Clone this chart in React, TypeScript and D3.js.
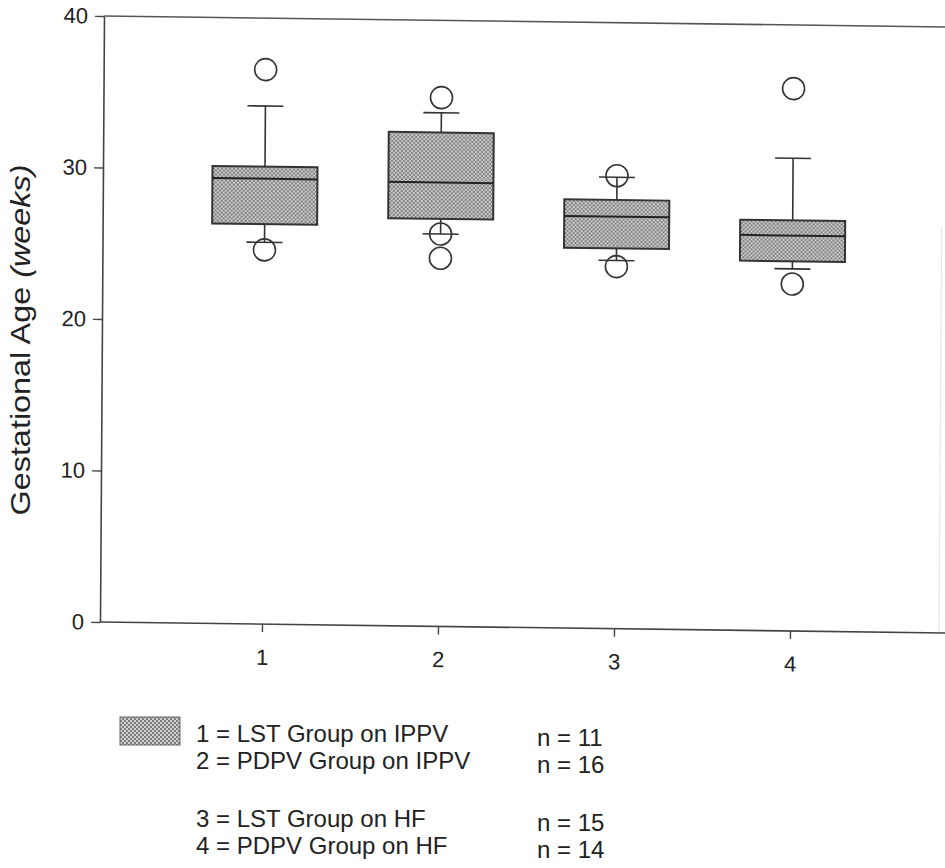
import React, { useEffect, useRef } from 'react'
import * as d3 from 'd3'

// box plot values (weeks)
const groups = [1, 2, 3, 4]
const q1 = [26.4, 26.9, 25.1, 24.4]
const medians = [29.4, 29.3, 27.2, 26.1]
const q3 = [30.2, 32.6, 28.3, 27.1]
const whiskerLow = [25.2, 25.9, 24.3, 23.9]
const whiskerHigh = [34.2, 33.9, 29.8, 31.2]
const outliers = [[36.6, 24.7], [34.9, 25.9, 24.3], [29.9, 23.9], [35.8, 22.9]]
const yTicks = [0, 10, 20, 30, 40]

const legendLabels = [
	'1 = LST Group on IPPV',
	'2 = PDPV Group on IPPV',
	'3 = LST Group on HF',
	'4 = PDPV Group on HF',
]
const legendCounts = ['n = 11', 'n = 16', 'n = 15', 'n = 14']

export default function App() {
	const ref = useRef<SVGSVGElement>(null)

	const width = 945
	const height = 868
	const left = 100
	const top = 16
	const bottom = 622
	const right = 960

	useEffect(() => {
		drawChart()
	}, [])

	const drawChart = () => {
		const root = d3.select(ref.current)
		root.selectAll('*').remove()

		const font = 'Liberation Sans, Arial, Helvetica, sans-serif'
		const ink = '#222'

		const defs = root.append('defs')
		const pat = defs.append('pattern')
			.attr('id', 'checker')
			.attr('patternUnits', 'userSpaceOnUse')
			.attr('width', 4)
			.attr('height', 4)
		pat.append('rect').attr('width', 4).attr('height', 4).attr('fill', '#d2d2d2')
		pat.append('rect').attr('width', 2).attr('height', 2).attr('fill', '#7c7c7c')
		pat.append('rect').attr('x', 2).attr('y', 2).attr('width', 2).attr('height', 2).attr('fill', '#7c7c7c')

		// the scan is slightly skewed
		const svg = root.append('g')
			.attr('transform', `translate(${left},${bottom}) matrix(1,0.013,-0.0066,1,0,0) translate(${-left},${-bottom})`)

		const y = d3.scaleLinear().domain([0, 40]).range([bottom, top])
		const x = d3.scaleLinear().domain([1, 4]).range([262, 790])

		const boxW = 105
		const capW = 36
		const r = 11

		// frame
		svg.append('line').attr('x1', left).attr('x2', right).attr('y1', top).attr('y2', top)
			.attr('stroke', '#555').attr('stroke-width', 1.6)
		svg.append('line').attr('x1', 939).attr('x2', 939).attr('y1', top + 200).attr('y2', bottom)
			.attr('stroke', '#e6e6e6').attr('stroke-width', 1.2)

		// y axis
		const yAxis = svg.append('g')
			.attr('transform', `translate(${left},0)`)
			.call(d3.axisLeft(y).tickValues(yTicks).tickSize(9).tickPadding(7).tickSizeOuter(0))
		yAxis.select('.domain').attr('stroke', '#444').attr('stroke-width', 1.6)
		yAxis.selectAll('.tick line').attr('stroke', '#444').attr('stroke-width', 1.4)
		yAxis.selectAll('.tick text')
			.attr('fill', ink)
			.style('font-family', font)
			.style('font-size', '22px')

		// x axis
		const xAxis = svg.append('g')
			.attr('transform', `translate(0,${bottom})`)
			.call(d3.axisBottom(x).tickValues(groups).tickFormat(d3.format('d')).tickSize(8).tickPadding(17).tickSizeOuter(0))
		xAxis.select('.domain').attr('d', `M${left},0H${right}`).attr('stroke', '#444').attr('stroke-width', 1.6)
		xAxis.selectAll('.tick line').attr('stroke', '#444').attr('stroke-width', 1.4)
		xAxis.selectAll('.tick text')
			.attr('fill', ink)
			.style('font-family', font)
			.style('font-size', '22px')

		// boxes
		const boxes = svg.selectAll('g.box')
			.data(groups)
			.enter()
			.append('g')
			.attr('class', 'box')

		boxes.append('line')
			.attr('x1', (d) => x(d)).attr('x2', (d) => x(d))
			.attr('y1', (_, i) => y(whiskerHigh[i])).attr('y2', (_, i) => y(q3[i]))
			.attr('stroke', '#333').attr('stroke-width', 1.6)
		boxes.append('line')
			.attr('x1', (d) => x(d)).attr('x2', (d) => x(d))
			.attr('y1', (_, i) => y(whiskerLow[i])).attr('y2', (_, i) => y(q1[i]))
			.attr('stroke', '#333').attr('stroke-width', 1.6)
		boxes.append('line')
			.attr('x1', (d) => x(d) - capW / 2).attr('x2', (d) => x(d) + capW / 2)
			.attr('y1', (_, i) => y(whiskerHigh[i])).attr('y2', (_, i) => y(whiskerHigh[i]))
			.attr('stroke', '#333').attr('stroke-width', 1.6)
		boxes.append('line')
			.attr('x1', (d) => x(d) - capW / 2).attr('x2', (d) => x(d) + capW / 2)
			.attr('y1', (_, i) => y(whiskerLow[i])).attr('y2', (_, i) => y(whiskerLow[i]))
			.attr('stroke', '#333').attr('stroke-width', 1.6)

		boxes.append('rect')
			.attr('x', (d) => x(d) - boxW / 2)
			.attr('width', boxW)
			.attr('y', (_, i) => y(q3[i]))
			.attr('height', (_, i) => y(q1[i]) - y(q3[i]))
			.attr('fill', 'url(#checker)')
			.attr('stroke', '#333')
			.attr('stroke-width', 2)

		boxes.append('line')
			.attr('x1', (d) => x(d) - boxW / 2).attr('x2', (d) => x(d) + boxW / 2)
			.attr('y1', (_, i) => y(medians[i])).attr('y2', (_, i) => y(medians[i]))
			.attr('stroke', '#222').attr('stroke-width', 2)

		boxes.each(function (d, i) {
			d3.select(this).selectAll('circle')
				.data(outliers[i])
				.enter()
				.append('circle')
				.attr('cx', x(d))
				.attr('cy', (v) => y(v))
				.attr('r', r)
				.attr('fill', 'none')
				.attr('stroke', '#333')
				.attr('stroke-width', 1.6)
		})

		// y title (stretched along its length like the scan)
		const title = root.append('text')
			.attr('transform', 'translate(30,340) rotate(-90) scale(1.2,1)')
			.attr('text-anchor', 'middle')
			.attr('fill', ink)
			.style('font-family', font)
			.style('font-size', '27px')
		title.append('tspan').text('Gestational Age ')
		title.append('tspan').style('font-style', 'italic').text('(weeks)')

		// legend
		const legend = root.append('g')
		legend.append('rect')
			.attr('x', 120).attr('y', 717).attr('width', 60).attr('height', 28)
			.attr('fill', 'url(#checker)')
			.attr('stroke', '#666').attr('stroke-width', 1)

		const rows = [742, 769, 827, 854]
		legend.selectAll('text.lab')
			.data(legendLabels)
			.enter()
			.append('text')
			.attr('class', 'lab')
			.attr('x', 196)
			.attr('y', (_, i) => rows[i])
			.attr('fill', ink)
			.style('font-family', font)
			.style('font-size', '24px')
			.text((d) => d)
		legend.selectAll('text.cnt')
			.data(legendCounts)
			.enter()
			.append('text')
			.attr('class', 'cnt')
			.attr('x', 537)
			.attr('y', (_, i) => rows[i] + 4)
			.attr('fill', ink)
			.style('font-family', font)
			.style('font-size', '24px')
			.text((d) => d)
	}

	return (
		<svg ref={ref} width={width} height={height}
			style={{ position: 'absolute', left: 0, top: 0, background: '#fff' }} />
	)
}
